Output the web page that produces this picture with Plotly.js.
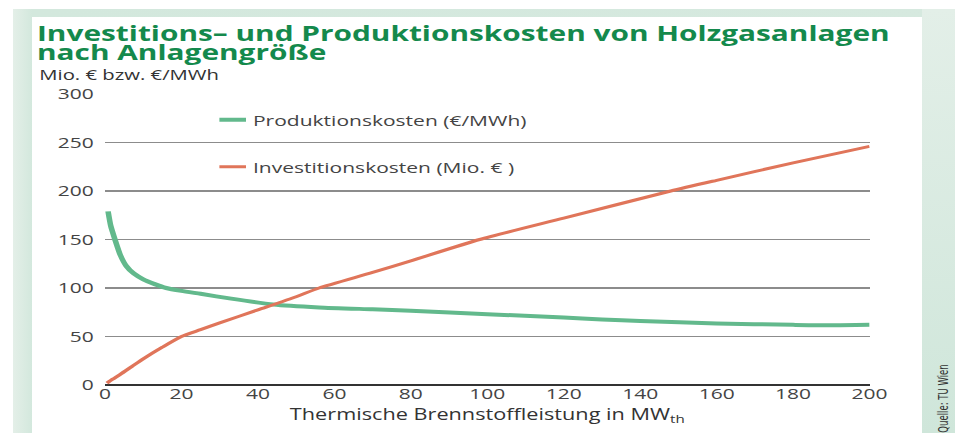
<!DOCTYPE html>
<html>
<head>
<meta charset="utf-8">
<script src="https://cdn.plot.ly/plotly-3.0.1.min.js"></script>
<style>
html, body { margin:0; padding:0; background:#ffffff; }
#wrap { position:relative; width:955px; height:433px; overflow:hidden; }
#frame { position:absolute; left:13px; top:9px; width:942px; height:424px;
  background:linear-gradient(90deg, #e4efe8 0px, #d3e8dd 19px, #d6e9df 100%); }
#strip { position:absolute; left:922px; top:9px; width:33px; height:424px;
  background:linear-gradient(180deg, #e3efe8 0%, #cfe6da 100%); }
#panel { position:absolute; left:32px; top:17px; width:890px; height:416px; background:#ffffff; }
#chart { position:absolute; left:0; top:0; width:682px; height:433px;
  transform:scaleX(1.40029); transform-origin:0 0; }
</style>
</head>
<body>
<div id="wrap">
  <div id="frame"></div>
  <div id="strip"></div>
  <div id="panel"></div>
  <div id="chart"></div>
</div>
<script>
// Data
const leistungProd = [0.8, 1.5, 2.6, 4, 5.5, 7.5, 10, 13, 16, 20, 25, 33, 44, 56, 70, 80, 100, 120, 130, 140, 160, 180, 190, 200];
const produktionskosten = [179, 164, 150, 134, 123, 115, 109, 104, 100, 97, 94, 89, 83, 80, 78, 76.5, 73, 69.5, 67.5, 66, 63.5, 62, 61.5, 62];
const leistungInv = [0.5, 2, 4, 7, 10, 15, 20, 25, 30, 40, 50, 56, 70, 80, 98, 120, 148, 160, 180, 200];
const investitionskosten = [2, 6, 11, 19, 27, 39, 50, 57, 64, 77.5, 91, 100, 116, 128, 150, 172, 200, 211, 229, 246];
const xTicks = [0, 20, 40, 60, 80, 100, 120, 140, 160, 180, 200];
const yTicks = [0, 50, 100, 150, 200, 250, 300];

const font = 'Open Sans, Noto Sans, sans-serif';
const S = 955 / 682;           // horizontal stretch of the original graphic
const W = 682, H = 433;
const L = 75, R = 61, T = 94, B = 48;
const PW = W - L - R, PH = H - T - B;
const px = v => (v / S - L) / PW;      // real page x -> paper x
const py = v => (H - B - v) / PH;      // real page y -> paper y

const traces = [
  { x: leistungProd, y: produktionskosten, type: 'scatter', mode: 'lines',
    name: 'Produktionskosten (€/MWh)', line: { color: '#62b98c', width: 4, shape: 'spline', smoothing: 0.6 },
    legend: 'legend' },
  { x: leistungInv, y: investitionskosten, type: 'scatter', mode: 'lines',
    name: 'Investitionskosten (Mio. € )', line: { color: '#e0755a', width: 3, shape: 'spline', smoothing: 0.6 },
    legend: 'legend2' }
];

const layout = {
  width: W, height: H,
  margin: { l: L, r: R, t: T, b: B, pad: 0 },
  paper_bgcolor: 'rgba(0,0,0,0)',
  plot_bgcolor: 'rgba(0,0,0,0)',
  font: { family: font, color: '#444' },
  title: {
    text: 'Investitions– und Produktionskosten von Holzgasanlagen<br>nach Anlagengröße',
    xref: 'container', yref: 'container', x: (37 / S) / W, xanchor: 'left',
    y: 1 - 41 / H, yanchor: 'top',
    font: { family: font, size: 21.3, color: '#14894c', weight: 'bold' }
  },
  xaxis: {
    range: [0, 200], tickvals: xTicks, ticktext: xTicks.map(String),
    showgrid: false, zeroline: false, showline: false,
    ticks: '', ticklabelstandoff: -2,
    tickfont: { family: font, size: 15, color: '#444' },
    title: { text: 'Thermische Brennstoffleistung in MW<sub>th</sub>', standoff: 0,
      font: { family: font, size: 15.5, color: '#333' } },
    fixedrange: true
  },
  yaxis: {
    range: [0, 300], tickvals: yTicks, ticktext: yTicks.map(String),
    showgrid: true, gridcolor: '#8c8c8c', gridwidth: 1.5,
    zeroline: true, zerolinecolor: '#333', zerolinewidth: 1.5, showline: false,
    ticks: 'outside', ticklen: 4, tickcolor: 'rgba(0,0,0,0)',
    tickfont: { family: font, size: 15, color: '#444' },
    fixedrange: true
  },
  showlegend: true,
  legend: { x: (253 / S - 40 - L) / PW, y: py(120), xanchor: 'left', yanchor: 'middle',
    bgcolor: 'rgba(0,0,0,0)', font: { family: font, size: 15, color: '#444' } },
  legend2: { x: (253 / S - 40 - L) / PW, y: py(167), xanchor: 'left', yanchor: 'middle',
    bgcolor: 'rgba(0,0,0,0)', font: { family: font, size: 15, color: '#444' } },
  annotations: [
    { text: 'Mio. € bzw. €/MWh', xref: 'paper', yref: 'paper', x: px(37), y: py(74.5),
      xanchor: 'left', yanchor: 'middle', showarrow: false,
      font: { family: font, size: 14.5, color: '#333' } },
    { text: 'Quelle: TU Wien', xref: 'paper', yref: 'paper', x: px(942), y: py(398),
      xanchor: 'center', yanchor: 'middle', textangle: -90, showarrow: false,
      font: { family: 'Liberation Sans Narrow, DejaVu Sans Condensed, sans-serif', size: 9.5, color: '#333' } }
  ]
};

Plotly.newPlot('chart', traces, layout, { displayModeBar: false, staticPlot: true }).then(gd => {
  // tighter line pitch for the two-line title
  const lines = gd.querySelectorAll('.gtitle tspan.line');
  if (lines.length > 1) lines[1].setAttribute('dy', '0.88em');
  // shorter legend line samples, as in the original
  gd.querySelectorAll('.legendlines path').forEach(p => p.setAttribute('d', 'M16,0h19'));
});
</script>
</body>
</html>
